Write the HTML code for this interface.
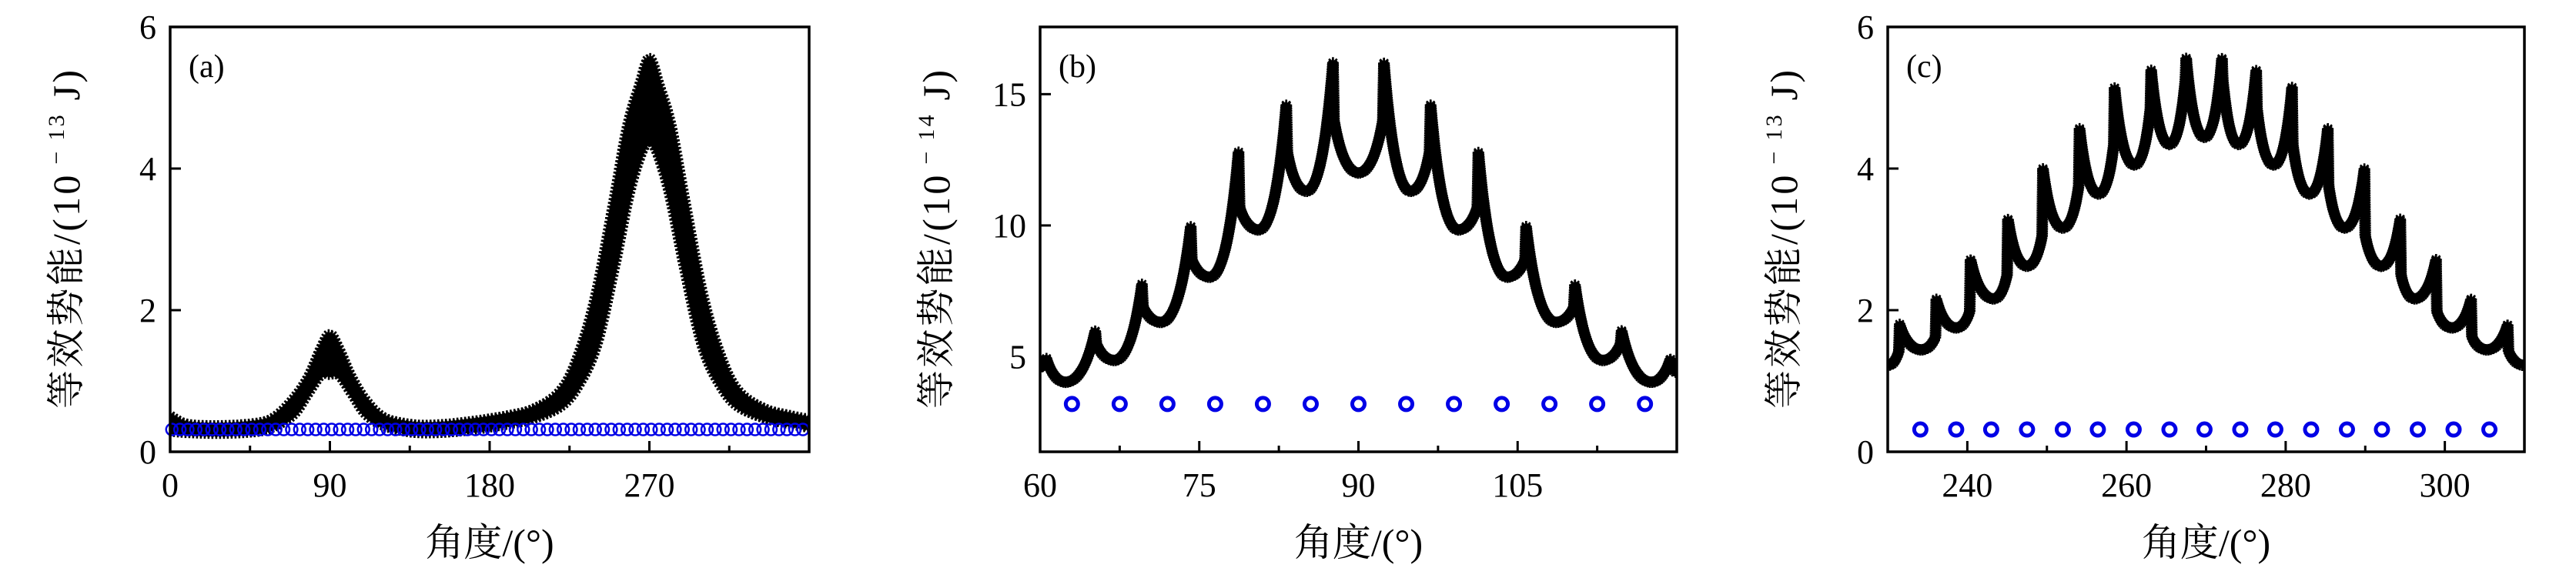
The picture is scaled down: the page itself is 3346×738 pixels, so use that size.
<!DOCTYPE html>
<html><head><meta charset="utf-8"><style>
html,body{margin:0;padding:0;background:#fff;}
svg{display:block;}
.tick{font-family:"Liberation Serif",serif;font-size:44px;fill:#000;}
.ttl{font-family:"Liberation Serif","Noto Serif CJK SC",serif;font-size:50px;fill:#000;}
.lbl{font-family:"Liberation Serif",serif;font-size:42px;fill:#000;}
</style></head><body>
<svg id="fig" width="3346" height="738" viewBox="0 0 3346 738" xmlns="http://www.w3.org/2000/svg"></svg>
<script>
// ---- Panel (a) data: envelope of dense marker band ----
const aAngles = [0,10,30,50,60,70,78,85,90,95,102,110,120,135,150,170,190,205,220,230,240,250,258,265,270,275,282,290,300,310,320,335,350,360];
const aUpper  = [0.5,0.38,0.36,0.40,0.5,0.75,1.05,1.45,1.65,1.45,1.05,0.72,0.48,0.38,0.37,0.42,0.5,0.6,0.85,1.35,2.2,3.5,4.6,5.2,5.55,5.2,4.6,3.5,2.2,1.35,0.85,0.6,0.5,0.45];
const aLower  = [0.3,0.28,0.27,0.30,0.38,0.55,0.85,1.1,1.1,1.1,0.85,0.55,0.38,0.29,0.28,0.32,0.4,0.48,0.65,0.95,1.5,2.6,3.6,4.2,4.4,4.2,3.6,2.6,1.5,0.95,0.65,0.48,0.4,0.35];
const aBlueAngles = [1,5.5,10,14.5,19,23.5,28,32.5,37,41.5,46,50.5,55,59.5,64,68.5,73,77.5,82,86.5,91,95.5,100,104.5,109,113.5,118,122.5,127,131.5,136,140.5,145,149.5,154,158.5,163,167.5,172,176.5,181,185.5,190,194.5,199,203.5,208,212.5,217,221.5,226,230.5,235,239.5,244,248.5,253,257.5,262,266.5,271,275.5,280,284.5,289,293.5,298,302.5,307,311.5,316,320.5,325,329.5,334,338.5,343,347.5,352,356.5];
const aBlueValue = 0.315;
const aXTicks = [0,90,180,270];
const aYTicks = [0,2,4,6];

// ---- Panel (b) data ----
const bAngles = [60.0,60.6,62.4,65.2,65.3,67.0,69.6,69.7,71.4,74.2,74.3,76.0,78.7,78.8,80.6,83.2,83.3,85.1,87.6,87.7,90.0,92.3,92.4,94.9,96.7,96.8,99.4,101.2,101.3,104.0,105.7,105.8,108.6,110.3,110.4,113.0,114.7,114.8,117.6,119.4,120.0];
const bValues = [4.6,4.93,4.03,6.0,5.5,4.86,7.76,6.9,6.31,9.97,8.7,8.03,12.8,10.7,9.83,14.6,12.8,11.3,16.2,14.0,12.0,14.0,16.2,11.3,12.8,14.6,9.83,10.7,12.8,8.03,8.7,9.97,6.31,6.9,7.76,4.86,5.5,6.0,4.03,4.93,4.4];
const bBlueAngles = [63.0,67.5,72.0,76.5,81.0,85.5,90.0,94.5,99.0,103.5,108.0,112.5,117.0];
const bBlueValue = 3.2;
const bXTicks = [60,75,90,105];
const bYTicks = [5,10,15];

// ---- Panel (c) data ----
const cAngles = [230,231.4,231.5,234.2,236.0,236.1,238.6,240.3,240.4,243.3,245.0,245.1,247.5,249.4,249.5,252.0,254.0,254.1,256.5,258.4,258.5,261.0,263.0,263.1,265.4,267.4,267.5,269.8,272.0,272.1,274.1,276.3,276.4,278.5,280.8,280.9,283.0,285.3,285.4,287.4,289.9,290.0,292.0,294.4,294.5,296.2,298.9,299.0,300.9,303.3,303.4,305.3,307.9,308.0,310];
const cValues = [1.22,1.42,1.80,1.44,1.62,2.16,1.75,1.98,2.72,2.16,2.5,3.29,2.62,3.05,4.0,3.16,3.76,4.57,3.64,4.34,5.15,4.05,4.85,5.39,4.34,5.26,5.56,4.44,5.56,5.26,4.34,5.39,4.85,4.05,5.15,4.34,3.64,4.57,3.76,3.16,4.0,3.05,2.62,3.29,2.5,2.16,2.72,1.98,1.75,2.16,1.62,1.44,1.80,1.42,1.22];
const cBlueAngles = [234.1,238.6,243.0,247.5,252.0,256.4,260.9,265.4,269.8,274.3,278.7,283.2,287.7,292.1,296.6,301.1,305.6];
const cBlueValue = 0.315;
const cXTicks = [240,260,280,300];
const cYTicks = [0,2,4,6];

const NS = "http://www.w3.org/2000/svg";
const svg = document.getElementById('fig');
function mk(tag, attrs, parent){const e=document.createElementNS(NS,tag);for(const k in attrs)e.setAttribute(k,attrs[k]);(parent||svg).appendChild(e);return e;}

const TOP=35, BOT=587;
function makeAxes(x0,x1,xmin,xmax,ymin,ymax){
  return {x:v=>x0+(v-xmin)/(xmax-xmin)*(x1-x0), y:v=>BOT-(v-ymin)/(ymax-ymin)*(BOT-TOP)};
}
// smooth catmull-rom (for panel a envelopes)
function smoothPath(xs,ys,sx,sy){
  const P=xs.map((v,i)=>[sx(v),sy(ys[i])]);
  let d=`M${P[0][0]},${P[0][1]}`;
  for(let i=0;i<P.length-1;i++){
    const p0=i>0?P[i-1]:P[i];
    const p3=i+2<P.length?P[i+2]:P[i+1];
    const p1=P[i],p2=P[i+1];
    const c1=[p1[0]+(p2[0]-p0[0])/6,p1[1]+(p2[1]-p0[1])/6];
    const c2=[p2[0]-(p3[0]-p1[0])/6,p2[1]-(p3[1]-p1[1])/6];
    d+=` C${c1[0]},${c1[1]} ${c2[0]},${c2[1]} ${p2[0]},${p2[1]}`;
  }
  return d;
}
// scalloped path: jumps are straight, other segments concave-up (U valleys, cusp peaks)
function scallopPath(xs,ys,sx,sy){
  const P=xs.map((v,i)=>[sx(v),sy(ys[i])]);
  let d=`M${P[0][0]},${P[0][1]}`;
  for(let i=0;i<P.length-1;i++){
    const p1=P[i],p2=P[i+1];
    if(Math.abs(xs[i+1]-xs[i])<0.25){d+=` L${p2[0]},${p2[1]}`;continue;}
    // lower endpoint has larger screen y
    const low = p1[1]>p2[1]?p1:p2, high = low===p1?p2:p1;
    const cx = low[0]+0.62*(high[0]-low[0]);
    d+=` Q${cx},${low[1]} ${p2[0]},${p2[1]}`;
  }
  return d;
}
function starsAlong(pathEl,g,step,r){
  const L=pathEl.getTotalLength();
  let d='';
  for(let s=0;s<=L;s+=step){
    const p=pathEl.getPointAtLength(s);
    for(let k=0;k<4;k++){const a=k*Math.PI/4;const dx=r*Math.cos(a),dy=r*Math.sin(a);
      d+=`M${(p.x-dx).toFixed(1)},${(p.y-dy).toFixed(1)}L${(p.x+dx).toFixed(1)},${(p.y+dy).toFixed(1)}`;}
  }
  const st=mk('path',{d:d,stroke:'#000','stroke-width':2.6,fill:'none'},g);
  
  
}
function frame(g,x0,x1,ax,xt,yt,minorX,label,exp){
  const fr=mk('rect',{x:x0,y:TOP,width:x1-x0,height:BOT-TOP,fill:'none',stroke:'#000','stroke-width':3.5},g);
  
  
  xt.forEach(v=>{const X=ax.x(v);
    mk('line',{x1:X,x2:X,y1:BOT,y2:BOT-14,stroke:'#000','stroke-width':3},g);
    const t=mk('text',{x:X,y:645,'text-anchor':'middle',class:'tick'},g);t.textContent=v;
    
    });
  minorX.forEach(v=>{const X=ax.x(v);mk('line',{x1:X,x2:X,y1:BOT,y2:BOT-8,stroke:'#000','stroke-width':3},g);});
  yt.forEach(v=>{const Y=ax.y(v);
    mk('line',{x1:x0,x2:x0+14,y1:Y,y2:Y,stroke:'#000','stroke-width':3},g);
    const t=mk('text',{x:x0-18,y:Y+15,'text-anchor':'end',class:'tick'},g);t.textContent=v;
    
    });
  const pl=mk('text',{x:x0+24,y:100,class:'lbl'},g);pl.textContent=label;
  
  
  const xtl=mk('text',{x:(x0+x1)/2,y:722,'text-anchor':'middle',class:'ttl'},g);xtl.textContent='角度/(°)';
  
  
  const cx=x0-118, cy=(TOP+BOT)/2;
  const ytl=mk('text',{x:cx,y:cy,'text-anchor':'middle',class:'ttl',transform:`rotate(-90 ${cx} ${cy})`,textLength:440,lengthAdjust:'spacing'},g);
  
  
  const t1=mk('tspan',{},ytl);t1.textContent='等效势能/(10';
  const t2=mk('tspan',{dy:-20,'font-size':30},ytl);t2.textContent=' − '+exp;
  const t3=mk('tspan',{dy:20},ytl);t3.textContent=' J)';
}
function blue(g,ax,angles,val,r,sw){
  angles.forEach(a=>{const c=mk('circle',{cx:ax.x(a),cy:ax.y(val),r:r,fill:'none',stroke:'#0000e6','stroke-width':sw},g);
    
    });
}
function clip(id,x0,x1){
  const cp=document.createElementNS(NS,'clipPath');cp.setAttribute('id',id);svg.appendChild(cp);
  mk('rect',{x:x0,y:TOP,width:x1-x0,height:BOT-TOP},cp);
}

// Panel a
{
  const g=mk('g',{});
  const x0=221,x1=1051,ax=makeAxes(x0,x1,0,360,0,6);
  clip('clipa',x0,x1);
  const gc=mk('g',{'clip-path':'url(#clipa)'},g);
  const up=smoothPath(aAngles,aUpper,ax.x,ax.y);
  const lo=smoothPath(aAngles.slice().reverse(),aLower.slice().reverse(),ax.x,ax.y);
  const band=mk('path',{d:up+' L'+lo.slice(1)+' Z',fill:'#000',stroke:'#000','stroke-width':6},gc);
  
  
  const ue=mk('path',{d:up,fill:'none',stroke:'none'},gc);
  starsAlong(ue,gc,5,8);
  const le=mk('path',{d:smoothPath(aAngles,aLower,ax.x,ax.y),fill:'none',stroke:'none'},gc);
  starsAlong(le,gc,5,8);
  blue(g,ax,aBlueAngles,aBlueValue,7.5,2.5);
  frame(g,x0,x1,ax,aXTicks,aYTicks,[45,135,225,315],'(a)','13');
}
// Panel b
{
  const g=mk('g',{});
  const x0=1351,x1=2178,ax=makeAxes(x0,x1,60,120,1.38,17.56);
  clip('clipb',x0,x1);
  const gc=mk('g',{'clip-path':'url(#clipb)'},g);
  const p=mk('path',{d:scallopPath(bAngles,bValues,ax.x,ax.y),fill:'none',stroke:'#000','stroke-width':3},gc);
  
  
  starsAlong(p,gc,3,7.5);
  blue(g,ax,bBlueAngles,bBlueValue,8,5);
  frame(g,x0,x1,ax,bXTicks,bYTicks,[67.5,82.5,97.5,112.5],'(b)','14');
}
// Panel c
{
  const g=mk('g',{});
  const x0=2452,x1=3279,ax=makeAxes(x0,x1,230,310,0,6);
  clip('clipc',x0,x1);
  const gc=mk('g',{'clip-path':'url(#clipc)'},g);
  const p=mk('path',{d:scallopPath(cAngles,cValues,ax.x,ax.y),fill:'none',stroke:'#000','stroke-width':3},gc);
  
  
  starsAlong(p,gc,3,7.5);
  blue(g,ax,cBlueAngles,cBlueValue,8,5);
  frame(g,x0,x1,ax,cXTicks,cYTicks,[250,270,290],'(c)','13');
}
</script>
</body></html>
